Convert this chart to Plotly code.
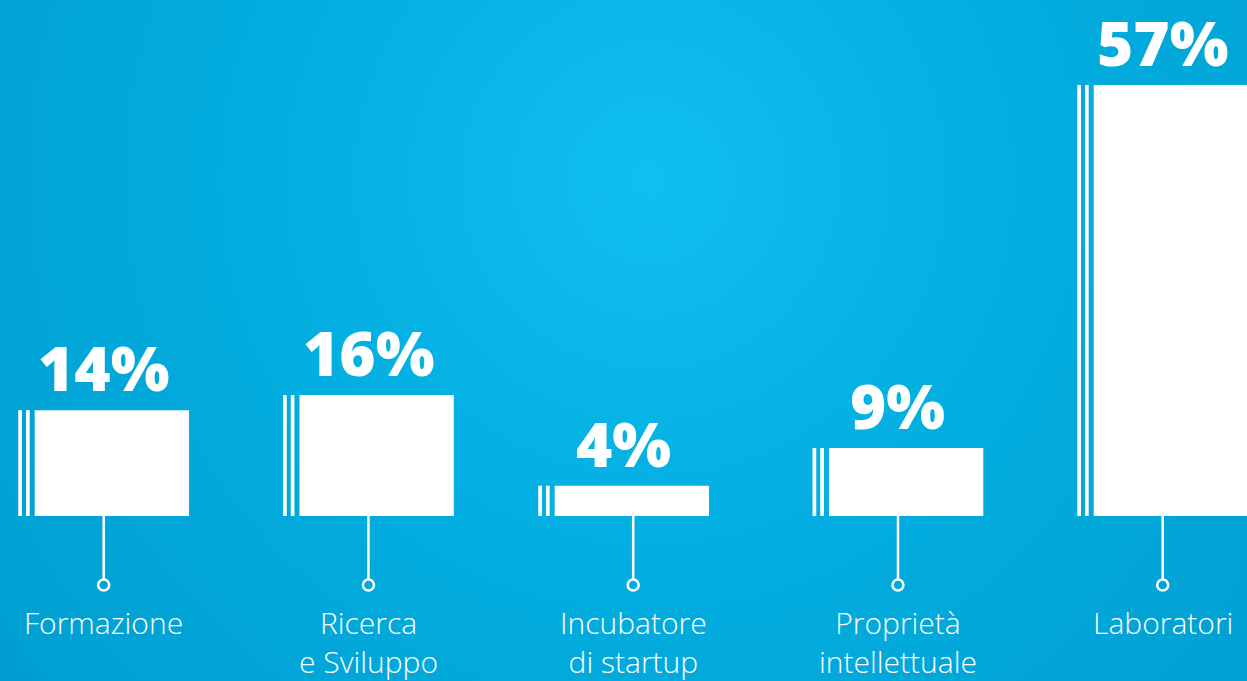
import base64
import plotly.graph_objects as go

# ---- data ----
categories = ["Formazione", "Ricerca<br>e Sviluppo", "Incubatore<br>di startup",
              "Proprietà<br>intellettuale", "Laboratori"]
values = [14, 16, 4, 9, 57]
value_labels = [f"{v}%" for v in values]

idx = list(range(len(categories)))

# ---- style ----
W, H = 1247, 681
WHITE = "#ffffff"
FONT = "Open Sans"

# background radial gradient as SVG
svg = f'''<svg xmlns="http://www.w3.org/2000/svg" width="{W}" height="{H}">
<defs><radialGradient id="g" gradientUnits="userSpaceOnUse" cx="650" cy="180" r="820">
<stop offset="0" stop-color="#10bff1"/>
<stop offset="0.45" stop-color="#03aee0"/>
<stop offset="1" stop-color="#009ed0"/>
</radialGradient></defs>
<rect width="{W}" height="{H}" fill="url(#g)"/></svg>'''
bg_src = "data:image/svg+xml;base64," + base64.b64encode(svg.encode()).decode()

fig = go.Figure()

# main bar and two thin stripes to the left (third group sits slightly left of its stem)
bar_shift = [0, 0, -0.036, 0, 0]
main_w, main_off = 0.583, -0.2606
stripe_w = 0.014
for off, w in [(main_off, main_w), (-0.3226, stripe_w), (-0.2935, stripe_w)]:
    fig.add_trace(go.Bar(x=idx, y=values, width=[w] * len(idx),
                         offset=[off + s for s in bar_shift],
                         marker=dict(color=WHITE, line=dict(width=0)),
                         hoverinfo="skip", showlegend=False))

# stems and circles below baseline
stem_len = 8.4
circ_y = -9.13
sx, sy = [], []
for i in idx:
    sx += [i, i, None]
    sy += [0, -stem_len, None]
fig.add_trace(go.Scatter(x=sx, y=sy, mode="lines", line=dict(color=WHITE, width=2.5),
                         hoverinfo="skip", showlegend=False))
fig.add_trace(go.Scatter(x=idx, y=[circ_y] * len(idx), mode="markers",
                         marker=dict(symbol="circle-open", size=11, color=WHITE,
                                     line=dict(width=2.5, color=WHITE)),
                         hoverinfo="skip", showlegend=False))

# percentage labels
for i, v, t, s in zip(idx, values, value_labels, bar_shift):
    fig.add_annotation(x=i + s, y=v, text=t, showarrow=False, yanchor="bottom", yshift=0,
                       borderpad=0,
                       font=dict(family=FONT, size=62, color=WHITE, weight=800))

# category labels
for i, c in zip(idx, categories):
    fig.add_annotation(x=i, y=-11.6, text=c, showarrow=False, yanchor="top",
                       yshift=3, borderpad=0,
                       font=dict(family=FONT, size=30, color=WHITE, weight=300))

px_per_unit_x = 264.75
x0_px = 103.7
px_per_unit_y = 7.56
base_px = 516

fig.update_layout(
    width=W, height=H,
    margin=dict(l=0, r=0, t=0, b=0),
    paper_bgcolor="#03aee0", plot_bgcolor="rgba(0,0,0,0)",
    barmode="overlay",
    xaxis=dict(visible=False, range=[-x0_px / px_per_unit_x, (W - x0_px) / px_per_unit_x],
               fixedrange=True),
    yaxis=dict(visible=False, range=[-(H - base_px) / px_per_unit_y, base_px / px_per_unit_y],
               fixedrange=True),
    images=[dict(source=bg_src, xref="paper", yref="paper", x=0, y=1, sizex=1, sizey=1,
                 sizing="stretch", layer="below", xanchor="left", yanchor="top")],
)

fig.write_html("out.html", config={"displayModeBar": False},
               post_script="document.body.style.margin='0';document.body.style.overflow='hidden';")
